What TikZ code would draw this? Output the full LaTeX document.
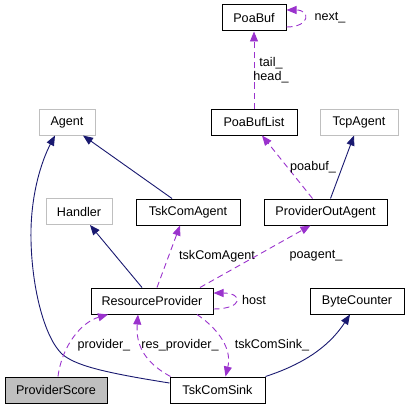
\documentclass[tikz,border=0pt]{standalone}
\usepackage{fontspec}
\setmainfont{Liberation Sans}
\usetikzlibrary{arrows.meta, positioning}
\definecolor{edgeblue}{RGB}{25,25,112}
\definecolor{edgepurple}{RGB}{154,50,205}
\definecolor{greyframe}{RGB}{191,191,191}

\begin{document}
\begin{tikzpicture}[
    x=1pt, y=-1pt,
    every node/.style={font=\fontsize{12.6}{14}\selectfont},
    cls/.style={rectangle, draw=black, line width=1pt, fill=white, minimum height=26pt, minimum width=#1, inner sep=0pt},
    extcls/.style={cls=#1, draw=greyframe},
    inherit/.style={-{Triangle[length=10pt, width=8pt]}, edgeblue, line width=0.9pt},
    usage/.style={-{Triangle[length=10pt, width=8pt]}, edgepurple, line width=0.9pt, dash pattern=on 6pt off 4pt},
    lbl/.style={inner sep=1pt, align=center},
]
    \useasboundingbox (0,0) rectangle (411,409);

    % Classes
    \node[cls=64pt] (poabuf) at (254,18) {PoaBuf};
    \node[cls=86pt] (poabuflist) at (254,122) {PoaBufList};
    \node[extcls=56pt] (agent) at (67,122) {Agent};
    \node[extcls=78pt] (tcpagent) at (359,122) {TcpAgent};
    \node[extcls=66pt] (handler) at (79,211.5) {Handler};
    \node[cls=104pt] (tskcomagent) at (188,212) {TskComAgent};
    \node[cls=123pt] (provoutagent) at (325.5,212) {ProviderOutAgent};
    \node[cls=122pt] (resprovider) at (152,301) {ResourceProvider};
    \node[cls=94pt] (bytecounter) at (357,301) {ByteCounter};
    \node[cls=102pt, fill=greyframe] (provscore) at (56,390) {ProviderScore};
    \node[cls=95pt] (tskcomsink) at (217.5,390) {TskComSink};

    % Inheritance
    \draw[inherit] ([xshift=5pt]provoutagent.north) -- ([xshift=-5pt]tcpagent.south);
    \draw[inherit] ([xshift=-16pt]tskcomagent.north) -- ([xshift=16pt]agent.south);
    \draw[inherit] ([xshift=-10pt]resprovider.north) -- ([xshift=11pt]handler.south);
    \draw[inherit] (tskcomsink.north east) .. controls (310,362) and (332,342) .. ([xshift=-7pt]bytecounter.south);
    \draw[inherit] ([yshift=7pt]tskcomsink.west) .. controls (100,372) and (75,365) .. (62,354)
        .. controls (45,338) and (32,290) .. (31,240)
        .. controls (30,195) and (42,160) .. ([xshift=-12pt]agent.south);

    % Usage
    \draw[usage] (poabuflist) -- (poabuf);
    \node[lbl] (lbltail) at (271,70) {tail\_\\head\_};
    \draw[usage] ([yshift=-9pt]poabuf.east) .. controls +(24,0) and +(24,0) .. ([yshift=8pt]poabuf.east);
    \node[lbl] (lblnext) at (330,18) {next\_};
    \draw[usage] ([xshift=-13pt]provoutagent.north) -- ([xshift=8pt]poabuflist.south);
    \node[lbl] (lblpoabuf) at (313,167) {poabuf\_};
    \draw[usage] ([xshift=5pt]resprovider.north) -- ([xshift=-8pt]tskcomagent.south);
    \node[lbl] (lbltskagent) at (217,256) {tskComAgent};
    \draw[usage] ([xshift=48pt]resprovider.north) -- ([xshift=-15pt]provoutagent.south);
    \node[lbl] (lblpoagent) at (316,256) {poagent\_};
    \draw[usage] ([yshift=-8pt]resprovider.east) .. controls +(30,0) and +(30,0) .. ([yshift=8pt]resprovider.east);
    \node[lbl] (lblhost) at (254,300) {host};
    \draw[usage] ([xshift=2pt]provscore.north) .. controls (62,345) and (82,322) .. ([xshift=-44pt]resprovider.south);
    \node[lbl] (lblprovider) at (104,345) {provider\_};
    \draw[usage] ([xshift=-47pt]tskcomsink.north) .. controls (140,360) and (136,340) .. ([xshift=-14pt]resprovider.south);
    \node[lbl] (lblresprov) at (180,345) {res\_provider\_};
    \draw[usage] ([xshift=45pt]resprovider.south) .. controls (220,330) and (232,350) .. ([xshift=8pt]tskcomsink.north);
    \node[lbl] (lbltsksink) at (272,345) {tskComSink\_};
\end{tikzpicture}
\end{document}
